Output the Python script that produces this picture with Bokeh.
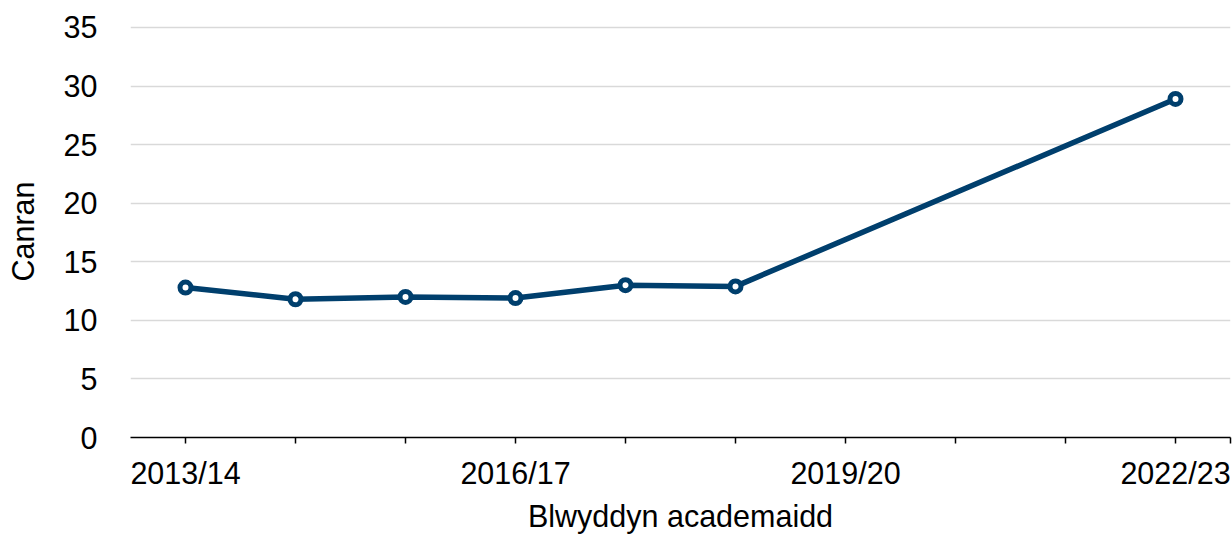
import math
from bokeh.plotting import figure
from bokeh.models import FixedTicker, Range1d
from bokeh.embed import file_html
from bokeh.resources import INLINE

years = ["2013/14", "2014/15", "2015/16", "2016/17", "2017/18",
         "2018/19", "2019/20", "2020/21", "2021/22", "2022/23"]
values = [12.8, 11.8, 12.0, 11.9, 13.0, 12.9, None, None, None, 28.9]
shown_labels = ["2013/14", "2016/17", "2019/20", "2022/23"]
y_ticks = [0, 5, 10, 15, 20, 25, 30, 35]

navy = "#003f6d"
font = "Liberation Sans"
fs = "30.5px"

xs = [i for i, v in enumerate(values) if v is not None]
ys = [v for v in values if v is not None]

p = figure(width=1232, height=535, output_backend="svg", toolbar_location=None,
           x_range=Range1d(-0.5, len(years) - 0.5), y_range=Range1d(0, 35.17),
           min_border_left=130, min_border_right=2, min_border_top=25, min_border_bottom=97)
p.outline_line_color = None
p.background_fill_color = "white"

p.line(xs, ys, line_color=navy, line_width=5.5)
p.scatter(xs, ys, size=11, fill_color="white", line_color=navy, line_width=5)

ticks = list(range(len(years))) + [len(years) - 0.5]
p.xaxis.ticker = FixedTicker(ticks=ticks)
overrides = {}
for i, y in enumerate(years):
    overrides[i] = y if y in shown_labels else ""
overrides[len(years) - 0.5] = ""
p.xaxis.major_label_overrides = overrides
p.xaxis.axis_line_color = "black"
p.xaxis.axis_line_width = 1.5
p.xaxis.major_tick_line_color = "black"
p.xaxis.major_tick_line_width = 1.5
p.xaxis.major_tick_in = 0
p.xaxis.major_tick_out = 6
p.xaxis.minor_tick_line_color = None
p.xaxis.major_label_standoff = 12
p.xaxis.axis_label = "Blwyddyn academaidd"
p.xaxis.axis_label_standoff = 6

p.yaxis.ticker = FixedTicker(ticks=y_ticks)
p.yaxis.axis_line_color = None
p.yaxis.major_tick_line_color = None
p.yaxis.minor_tick_line_color = None
p.yaxis.major_label_standoff = 27
p.yaxis.axis_label = "Canran"
p.yaxis.axis_label_standoff = 21

for ax in (p.xaxis, p.yaxis):
    ax.major_label_text_font = font
    ax.major_label_text_font_size = fs
    ax.major_label_text_color = "black"
    ax.axis_label_text_font = font
    ax.axis_label_text_font_size = fs
    ax.axis_label_text_font_style = "normal"
    ax.axis_label_text_color = "black"

p.xgrid.grid_line_color = None
p.ygrid.grid_line_color = "#d9d9d9"
p.ygrid.grid_line_width = 1.5

open("out.html", "w").write(file_html(p, INLINE))
